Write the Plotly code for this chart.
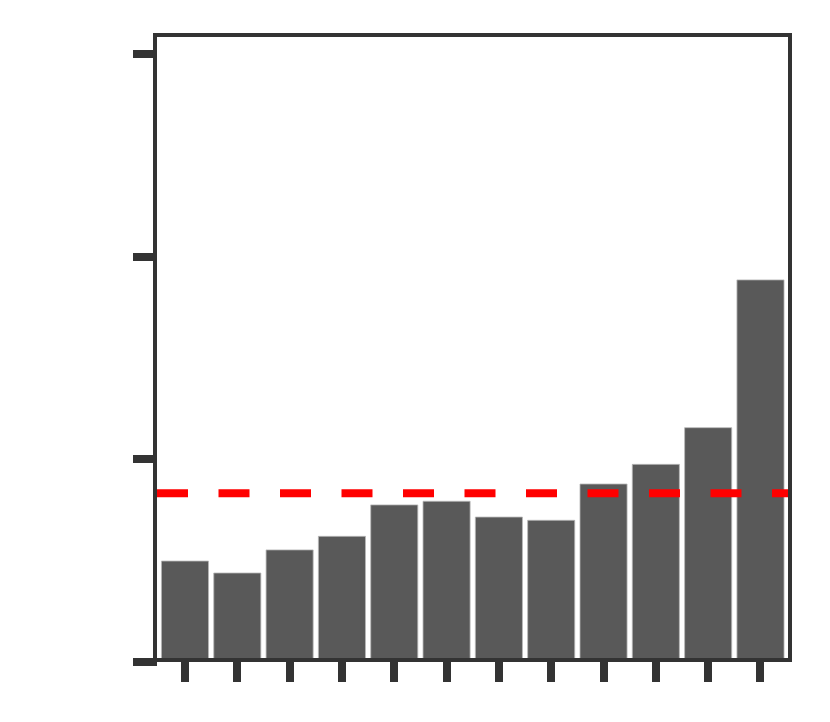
import numpy as np
import plotly.graph_objects as go

categories = list(range(12))
values = [0.498, 0.439, 0.553, 0.620, 0.775, 0.793, 0.715, 0.699, 0.878, 0.975, 1.156, 1.885]
y_ticks = [1, 2, 3]
y_zero_tick = [0]

mean_value = float(np.mean(values))

fig = go.Figure()
fig.add_trace(go.Bar(
    x=categories, y=values,
    marker=dict(color="#595959", line=dict(color="#b8b8b8", width=0.8)),
    showlegend=False,
))
# empty helper trace so the secondary (zero-tick) axis gets drawn
fig.add_trace(go.Scatter(x=[None], y=[None], xaxis="x", yaxis="y2",
                         mode="markers", showlegend=False, hoverinfo="skip"))

fig.add_shape(type="line", xref="paper", yref="y", x0=0, x1=1, y0=mean_value, y1=mean_value,
              line=dict(color="#ff0000", width=8, dash="31px,30.5px"), layer="above")

axis_common = dict(showline=True, linecolor="#333333", linewidth=4, mirror=True,
                   ticks="outside", tickcolor="#333333", tickwidth=8, ticklen=20,
                   showticklabels=False, showgrid=False, zeroline=False)

y_top = 3.0835
fig.update_layout(
    width=822, height=714,
    margin=dict(l=149, r=42, t=29, b=60),
    paper_bgcolor="white", plot_bgcolor="rgba(0,0,0,0)",
    bargap=0.1,
    xaxis=dict(range=[-0.535, 11.526], tickvals=categories, **axis_common),
    yaxis=dict(range=[0.0197, y_top], domain=[4 / 625, 1], tickvals=y_ticks, **axis_common),
    yaxis2=dict(range=[0, y_top], domain=[0, 1], anchor="free", position=0, side="left",
                tickvals=y_zero_tick, ticks="outside", tickcolor="#333333", tickwidth=8,
                ticklen=24, showline=False, showticklabels=False, showgrid=False,
                zeroline=False),
)

fig.write_html("out.html")
